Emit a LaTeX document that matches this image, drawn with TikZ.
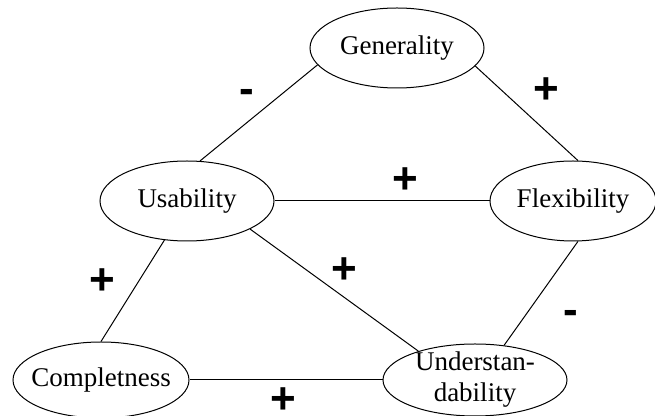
\documentclass[tikz,border=0pt]{standalone}
\usepackage{fontspec}
\setmainfont{Liberation Serif}
\newfontfamily\signfont{Liberation Sans}
\usetikzlibrary{shapes.geometric}

\begin{document}
\begin{tikzpicture}[x=0.5pt,y=-0.5pt, line width=0.5pt,
  quality/.style={ellipse, draw, inner xsep=-12pt, inner ysep=-4pt, font=\fontsize{13.5}{15.5}\selectfont, align=center},
  sign/.style={inner sep=0pt, font=\signfont\bfseries\fontsize{22}{22}\selectfont}]
\useasboundingbox (0,0) rectangle (655,416);
\node (gen) at (397,48) [quality, minimum width=87pt, minimum height=40pt] {Generality};
\node (use) at (187,201) [quality, minimum width=87pt, minimum height=40pt] {Usability};
\node (flex) at (573,201) [quality, minimum width=83pt, minimum height=40pt] {Flexibility};
\node (comp) at (101,380) [quality, minimum width=88pt, minimum height=38pt] {Completness};
\node (und) at (475,380) [quality, minimum width=92pt, minimum height=36pt] {Understan-\\dability};
\draw (use.72) -- (gen.192);
\draw (gen.347) -- (flex.83);
\draw (use.east) -- (flex.west);
\draw (use.336) -- (und.153);
\draw (use.240) -- (comp.90);
\draw (flex.277) -- (und.50);
\draw (comp.east) -- (und.west);
% signs
\node (s1) at (247,96) [sign] {-};
\node (s2) at (546,91) [sign] {+};
\node (s3) at (405,181) [sign] {+};
\node (s4) at (344,271) [sign] {+};
\node (s5) at (102,282) [sign] {+};
\node (s6) at (571,317) [sign] {-};
\node (s7) at (283,401) [sign] {+};
\end{tikzpicture}
\end{document}
